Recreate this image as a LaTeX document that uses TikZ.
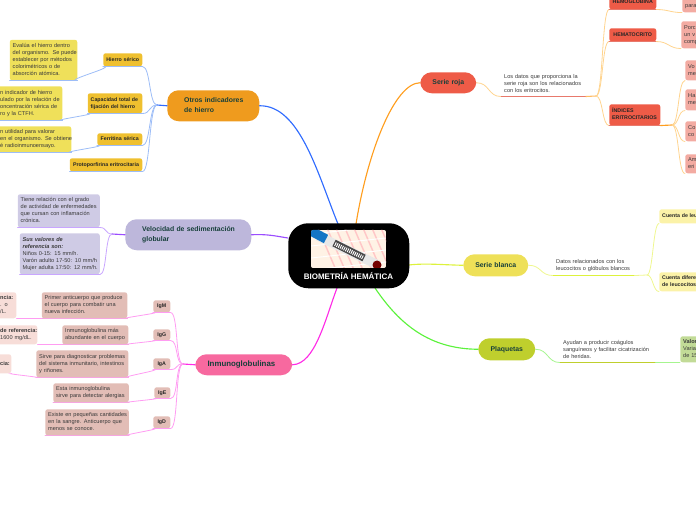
\documentclass[tikz,border=0pt]{standalone}
\usepackage{fontspec}
\setmainfont{Liberation Sans}
\usetikzlibrary{calc}
\definecolor{cBlue}{HTML}{2F6BFF}\definecolor{cBlueL}{HTML}{9DBDF7}
\definecolor{cPur}{HTML}{9B4DFF}\definecolor{cPurL}{HTML}{C9A6FF}
\definecolor{cMag}{HTML}{FF2BE6}\definecolor{cMagL}{HTML}{FF9CF2}
\definecolor{cOr}{HTML}{FF9E1F}\definecolor{cOrL}{HTML}{FFD48F}
\definecolor{cYel}{HTML}{DDF23C}\definecolor{cYelL}{HTML}{EFF78F}
\definecolor{cGr}{HTML}{5CF23C}\definecolor{cGrL}{HTML}{A6F58F}
\definecolor{tGreen}{HTML}{173F3A}\definecolor{tBody}{HTML}{3A3A3A}
\definecolor{EF9B1E}{HTML}{EF9B1E}\definecolor{BDB7DB}{HTML}{BDB7DB}\definecolor{F7699F}{HTML}{F7699F}
\definecolor{EE5B47}{HTML}{EE5B47}\definecolor{EEE058}{HTML}{EEE058}\definecolor{BFCF2D}{HTML}{BFCF2D}
\definecolor{EFC02F}{HTML}{EFC02F}\definecolor{EFE05A}{HTML}{EFE05A}\definecolor{CFCBE5}{HTML}{CFCBE5}
\definecolor{E2BDB6}{HTML}{E2BDB6}\definecolor{F7DDD8}{HTML}{F7DDD8}\definecolor{F3ABA2}{HTML}{F3ABA2}
\definecolor{E8796C}{HTML}{E8796C}\definecolor{FBF2A8}{HTML}{FBF2A8}\definecolor{C2DB97}{HTML}{C2DB97}
\tikzset{
 bx/.style={rounded corners=1.8pt,inner xsep=2.2pt,inner ysep=0pt,anchor=north west,align=left,
   font=\fontsize{4.2}{5.25}\selectfont,text=tBody},
 lbl/.style={bx,fill=#1,font=\fontsize{3.95}{5.4}\selectfont\bfseries,text=black!85},
 topic/.style={bx,fill=#1,rounded corners=8.5pt,font=\fontsize{5.15}{7.2}\selectfont\bfseries,text=tGreen},
 plain/.style={bx,rounded corners=0pt},
 main/.style={line width=.85pt,line cap=round},
 sub/.style={line width=.6pt,line cap=round},
}
% \bxn[name]{style}{x1}{y1}{x2}{y2}{text}: left aligned, lines never wrap
\newcommand{\bxn}[7][]{\node[#2,minimum width={(#5-#3)*.75pt},minimum height={(#6-#4)*.75pt},text width={(#5-#3)*.75pt-4.4pt}] (#1) at (#3,#4) {\hbox to \hsize{\begin{tabular}{@{}l@{}}#7\end{tabular}\hss}};}
% \bxc: centred
\newcommand{\bxc}[7][]{\node[#2,minimum width={(#5-#3)*.75pt},minimum height={(#6-#4)*.75pt},text width={(#5-#3)*.75pt-4.4pt}] (#1) at (#3,#4) {\hbox to \hsize{\hss\begin{tabular}{@{}c@{}}#7\end{tabular}\hss}};}
\newcommand{\cvx}[4]{\draw[#1] (#2) .. controls ($(#2)+(#4,0)$) and ($(#3)+(-#4,0)$) .. (#3);}
\newcommand{\ul}[2]{\draw[#1] (#2.south west) -- (#2.south east);}
\begin{document}
\begin{tikzpicture}[x=.75pt,y=-.75pt]
\useasboundingbox (0,0) rectangle (696,520);
\clip (0,0) rectangle (696,520);
% ---------- main connectors
\coordinate (mBlue) at (338,224);
\coordinate (mOr) at (356,224);
\coordinate (mPur) at (288,238);
\coordinate (mYel) at (409,265);
\coordinate (mGr) at (375,288);
\coordinate (mMag) at (337,288);
% ---------- topics
\bxn[otros]{topic=EF9B1E}{167}{90}{259}{121}{\hspace*{10.5pt}Otros indicadores\\\hspace*{10.5pt}de hierro}
\bxn[vel]{topic=BDB7DB}{125}{219}{251}{250}{\hspace*{10.5pt}Velocidad de sedimentación\\\hspace*{10.5pt}globular}
\bxn[inm]{topic=F7699F,font=\fontsize{5.9}{7.2}\selectfont\bfseries}{195}{354}{292}{375}{\hspace*{7pt}Inmunoglobulinas}
\bxc[roja]{topic=EE5B47}{420}{72}{476}{93}{Serie roja}
\bxc[blanca]{topic=EEE058}{463}{254}{528}{276}{Serie blanca}
\bxc[plaq]{topic=BFCF2D}{478}{338}{535}{360}{Plaquetas}
\draw[main,cBlue] (otros.east) .. controls (300,105) and (318,175) .. (mBlue);
\draw[main,cOr] (roja.west) .. controls (395,83) and (368,150) .. (mOr);
\draw[main,cPur] (vel.east) .. controls (268,234) and (275,236) .. (mPur);
\draw[main,cYel] (blanca.west) .. controls (445,265) and (425,263) .. (mYel);
\draw[main,cGr] (plaq.west) .. controls (430,349) and (400,325) .. (mGr);
\draw[main,cMag] (inm.east) .. controls (315,364) and (325,320) .. (mMag);
% ---------- centre
\node[fill=black,rounded corners=15pt,minimum width={121*.75pt},minimum height={65*.75pt},anchor=north west,inner sep=0pt] (ctr) at (288,223) {};
\begin{scope}
\clip[rounded corners=1.5pt] (311,230) rectangle (386,268);
\fill[white!90!orange] (311,230) rectangle (386,268);
\foreach \k in {0,1,...,8}{\draw[red!22!white,line width=1.1pt] (318+\k*9,228) -- (336+\k*9,270);}
\foreach \k in {0,1,2,3}{\draw[white,line width=.7pt] (311,234+\k*12) -- (386,226+\k*12);}
\draw[line width=7pt,white!82!gray] (318,236) -- (378,265);
\draw[line width=5.4pt,black!72] (334,243) -- (364,258);
\draw[line width=3pt,white,dash pattern=on .7pt off .8pt] (335,244) -- (363,257.5);
\draw[line width=7pt,cyan!55!blue] (309,230) -- (326,239);
\fill[red!45!black] (377,265) circle (4.5);
\end{scope}
\node[anchor=center,text=white,font=\fontsize{6}{7}\selectfont\bfseries,inner sep=0pt] (title) at (348.5,276) {BIOMETRÍA HEMÁTICA};
% ---------- Otros indicadores
\coordinate (hO) at (157,105);
\bxc[hs]{lbl=EFC02F}{103}{53}{142}{66}{Hierro sérico}
\bxn[cap]{lbl=EFC02F}{87.5}{93}{142}{113}{Capacidad total de\\fijación del hierro}
\bxc[fer]{lbl=EFC02F}{97}{133}{142}{145}{Ferritina sérica}
\bxc[pro]{lbl=EFC02F}{69.5}{158}{142}{171}{Protoporfirina eritrocitaria}
\bxn[ev]{bx,fill=EFE05A}{9.5}{39.5}{77}{80}{Evalúa el hierro dentro\\del organismo. Se puede\\establecer por métodos\\colorimétricos o de\\absorción atómica.}
\bxn[ind]{bx,fill=EFE05A}{-3}{86}{62}{120}{n indicador de hierro\\ulado por la relación de\\oncentración sérica de\\ro y la CTFH.}
\bxn[uti]{bx,fill=EFE05A}{-3}{126}{71}{152}{n utilidad para valorar\\en el organismo. Se obtiene\\é radioinmunoensayo.}
\draw[main,cBlue] (otros.west) -- (hO);
\foreach \n in {hs,cap,fer,pro}{\cvx{sub,cBlueL}{hO}{\n.south east}{-8}\ul{sub,cBlueL}{\n}}
\cvx{sub,cBlueL}{hs.south west}{ev.south east}{14}
\cvx{sub,cBlueL}{cap.south west}{ind.south east}{14}
\cvx{sub,cBlueL}{fer.south west}{uti.south east}{14}
\ul{sub,cBlueL}{ev}\ul{sub,cBlueL}{ind}\ul{sub,cBlueL}{uti}
% ---------- Velocidad
\coordinate (hV) at (112,234);
\bxn[tie]{bx,fill=CFCBE5}{17.5}{194}{99.5}{227}{Tiene relación con el grado\\de actividad de enfermedades\\que cursan con inflamación\\crónica.}
\bxn[sus]{bx,fill=CFCBE5}{19.5}{233}{99.5}{274}{{\bfseries\itshape Sus valores de}\\{\bfseries\itshape referencia son:}\\Niños 0-15: 15 mm/h.\\Varón adulto 17-50: 10 mm/h\\Mujer adulta 17:50: 12 mm/h.}
\draw[main,cPur] (vel.west) -- (hV);
\cvx{sub,cPurL}{hV}{tie.south east}{-7}
\cvx{sub,cPurL}{hV}{sus.south east}{-7}
\ul{sub,cPurL}{tie}\ul{sub,cPurL}{sus}
% ---------- Inmunoglobulinas
\coordinate (hI) at (183,364);
\bxc[igm]{lbl=E2BDB6}{153}{300}{170}{312}{IgM}
\bxc[igg]{lbl=E2BDB6}{153}{329}{170}{340}{IgG}
\bxc[iga]{lbl=E2BDB6}{153}{358}{170}{369}{IgA}
\bxc[ige]{lbl=E2BDB6}{154}{387}{170}{398}{IgE}
\bxc[igd]{lbl=E2BDB6}{153}{416}{170}{428}{IgD}
\bxn[pri]{bx,fill=E2BDB6}{41.5}{292}{127}{318}{Primer anticuerpo que produce\\el cuerpo para combatir una\\nueva infección.}
\bxn[mas]{bx,fill=E2BDB6}{62}{325}{128}{344}{Inmunoglobulina más\\abundante en el cuerpo}
\bxn[sir]{bx,fill=E2BDB6}{36}{350}{128}{377}{Sirve para diagnosticar problemas\\del sistema inmunitario, intestinos\\y riñones.}
\bxn[est]{bx,fill=E2BDB6}{53}{383}{128.5}{402}{Esta inmunoglobulina\\sirve para detectar alergias}
\bxn[exi]{bx,fill=E2BDB6}{45}{409}{128.5}{435}{Existe en pequeñas cantidades\\en la sangre. Anticuerpo que\\menos se conoce.}
\bxn[f1]{bx,fill=F7DDD8}{-3}{292}{16}{318}{{\bfseries ncia:}\\. o\\/L.}
\bxn[f2]{bx,fill=F7DDD8}{-3}{325}{37}{344}{{\bfseries de referencia:}\\1600 mg/dL.}
\bxn[f3]{bx,fill=F7DDD8}{-3}{354}{11}{373}{{\bfseries cia:}}
\draw[main,cMag] (inm.west) -- (hI);
\foreach \n in {igm,igg,iga,ige,igd}{\cvx{sub,cMagL}{hI}{\n.south east}{-8}\ul{sub,cMagL}{\n}}
\cvx{sub,cMagL}{igm.south west}{pri.south east}{12}
\cvx{sub,cMagL}{igg.south west}{mas.south east}{12}
\cvx{sub,cMagL}{iga.south west}{sir.south east}{12}
\cvx{sub,cMagL}{ige.south west}{est.south east}{12}
\cvx{sub,cMagL}{igd.south west}{exi.south east}{12}
\foreach \n in {pri,mas,sir,est,exi}{\ul{sub,cMagL!70!E2BDB6}{\n}}
\draw[sub,cMagL] (pri.south west) -- (f1.south east);
\draw[sub,cMagL] (mas.south west) -- (f2.south east);
\cvx{sub,cMagL}{sir.south west}{f3.south east}{8}
% ---------- Serie roja
\coordinate (hR) at (596,96);
\coordinate (hE) at (672,125);
\bxn[dat]{plain}{501}{72}{585}{96}{Los datos que proporciona la\\serie roja son los relacionados\\con los eritrocitos.}
\bxc[hgb]{lbl=EE5B47}{609}{-6}{656}{9}{HEMOGLOBINA}
\bxc[hto]{lbl=EE5B47}{609}{28}{656}{41}{HEMATOCRITO}
\bxn[ie]{lbl=EE5B47}{609}{104}{660}{125}{ÍNDICES\\ERITROCITARIOS}
\bxn[c1]{bx,fill=F3ABA2}{682}{-8}{700}{12}{Es a\\para}
\bxn[c2]{bx,fill=F3ABA2}{681}{21}{700}{48}{Porc\\un v\\comp}
\bxn[c3]{bx,fill=F3ABA2}{685}{60}{700}{80}{Vo\\me}
\bxn[c4]{bx,fill=F3ABA2}{685}{89}{700}{110}{Ha\\me}
\bxn[c5]{bx,fill=F3ABA2}{685}{121}{700}{141}{Co\\co}
\bxn[c6]{bx,fill=F3ABA2}{685}{154}{700}{173}{Am\\eri}
\cvx{sub,cOrL}{roja.east}{dat.south west}{13}
\draw[line width=.8pt,E8796C] (dat.south west) -- (dat.south east);
\draw[line width=.8pt,cOr!70!white] (dat.south east) -- (hR);
\foreach \n in {hgb,hto,ie}{\cvx{sub,cOrL}{hR}{\n.south west}{7}}
\foreach \n in {hgb,hto,ie}{\ul{sub,E8796C}{\n}}
\cvx{sub,cOrL}{hgb.south east}{c1.south west}{12}
\cvx{sub,cOrL}{hto.south east}{c2.south west}{12}
\draw[main,cOr] (ie.south east) -- (hE);
\foreach \n in {c3,c4,c5,c6}{\cvx{sub,cOrL}{hE}{\n.south west}{7}}
% ---------- Serie blanca
\coordinate (hB) at (647,275);
\bxn[dr]{plain}{553}{256}{634}{275}{Datos relacionados con los\\leucocitos o glóbulos blancos}
\bxn[cl]{lbl=FBF2A8}{659}{209}{700}{223}{Cuenta de leu}
\bxn[cd]{lbl=FBF2A8}{659}{272}{700}{291}{Cuenta difere\\de leucocitos}
\cvx{sub,cYelL}{blanca.east}{dr.south west}{13}
\draw[line width=.8pt,cYel] (dr.south west) -- (dr.south east);
\draw[sub,cYelL] (dr.south east) -- (hB);
\cvx{sub,cYelL}{hB}{cl.south west}{6}
\cvx{sub,cYelL}{hB}{cd.south west}{6}
% ---------- Plaquetas
\bxn[ayu]{plain}{560}{338}{655}{362}{Ayudan a producir coágulos\\sanguíneos y facilitar cicatrización\\de heridas.}
\bxn[val]{bx,fill=C2DB97}{680}{336}{700}{362}{{\bfseries Valor}\\Varia\\de 15}
\cvx{sub,cGrL}{plaq.east}{ayu.south west}{13}
\draw[line width=.8pt,BFCF2D] (ayu.south west) -- (ayu.south east);
\draw[sub,cGrL] (ayu.south east) -- (val.south west);
\end{tikzpicture}
\end{document}
